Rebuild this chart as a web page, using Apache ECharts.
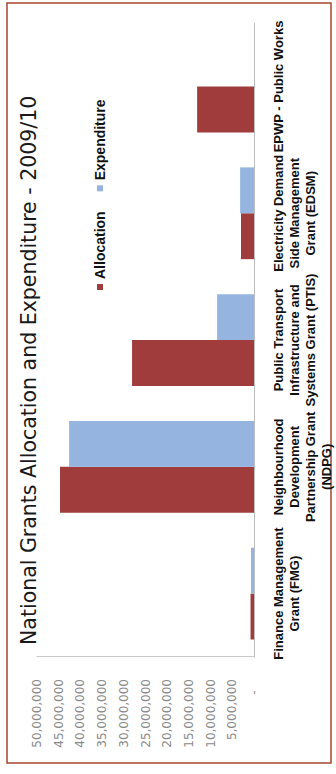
<!DOCTYPE html>
<html>
<head>
<meta charset="utf-8">
<script src="https://cdn.jsdelivr.net/npm/echarts@6/dist/echarts.min.js"></script>
<style>
  html, body { margin: 0; padding: 0; background: #fff; width: 336px; height: 774px; overflow: hidden; }
  /* The chart is laid out landscape (774 x 336) and turned a quarter turn anticlockwise. */
  #chart {
    position: absolute; left: 0; top: 0;
    width: 774px; height: 336px;
    transform-origin: 0 0;
    transform: translate(0, 774px) rotate(-90deg);
  }
</style>
</head>
<body>
<div id="chart"></div>
<script>
// Grant categories (multi-line labels)
const categories = [
  'Finance Management\nGrant (FMG)',
  'Neighbourhood\nDevelopment\nPartnership Grant\n(NDPG)',
  'Public Transport\nInfrastructure and\nSystems Grant (PTIS)',
  'Electricity Demand\nSide Management\nGrant (EDSM)',
  'EPWP - Public Works'
];
const seriesNames = ['Allocation', 'Expenditure'];
// Rand values, 2009/10
const allocation  = [800000, 44700000, 28100000, 3000000, 13100000];
const expenditure = [700000, 42600000, 8500000, 3200000, 0];
// Value axis range
const axisMin = 0;
const axisMax = 50000000;
const axisStep = 5000000;
const titleText = 'National Grants Allocation and Expenditure - 2009/10';

const boldFace = '"Liberation Sans", Arial, sans-serif';

const chart = echarts.init(document.getElementById('chart'), null, { renderer: 'svg' });

chart.setOption({
  animation: false,
  backgroundColor: '#ffffff',
  color: ['#a03c3c', '#95b5e0'],
  grid: { left: 117, right: 8, top: 37, bottom: 82, containLabel: false },
  legend: {
    data: seriesNames,
    left: 479,
    top: 88,
    icon: 'rect',
    itemWidth: 6,
    itemHeight: 6,
    itemGap: 20,
    textStyle: { fontFamily: boldFace, fontWeight: 700, fontSize: 14, color: '#111' }
  },
  xAxis: {
    type: 'category',
    data: categories,
    axisLine: { show: true, lineStyle: { color: '#bdbdbd', width: 1 } },
    axisTick: { show: false },
    axisLabel: {
      interval: 0,
      hideOverlap: false,
      margin: 16,
      width: 170,
      overflow: 'none',
      fontFamily: boldFace,
      fontWeight: 700,
      fontSize: 13,
      lineHeight: 16,
      color: '#111',
      align: 'center',
      verticalAlign: 'top'
    },
    splitLine: { show: false }
  },
  yAxis: {
    type: 'value',
    min: axisMin,
    max: axisMax,
    interval: axisStep,
    axisLine: { show: true, lineStyle: { color: '#c8c8c8', width: 1 } },
    axisTick: { show: false },
    splitLine: { show: false },
    axisLabel: {
      margin: 22,
      fontFamily: '"DejaVu Sans", sans-serif',
      fontSize: 12,
      color: '#8a8a8a',
      formatter: v => v === 0 ? '-   ' : v.toLocaleString('en-US')
    }
  },
  series: [
    {
      name: seriesNames[0], type: 'bar', data: allocation,
      barGap: '0%', barCategoryGap: '27.6%',
      itemStyle: { color: '#a03c3c' }
    },
    {
      name: seriesNames[1], type: 'bar', data: expenditure,
      barGap: '0%', barCategoryGap: '27.6%',
      itemStyle: { color: '#95b5e0' }
    }
  ],
  graphic: [
    {
      type: 'rect', silent: true, z: -1,
      shape: { x: 11, y: 7, width: 760, height: 324 },
      style: { fill: 'none', stroke: '#a5472f', lineWidth: 1.5 }
    },
    {
      type: 'text', silent: true,
      x: 129, y: 29,
      style: {
        text: titleText,
        fill: '#1a1a1a',
        font: '20.5px "DejaVu Sans", sans-serif',
        textAlign: 'left',
        textVerticalAlign: 'middle'
      }
    }
  ]
});
</script>
</body>
</html>
